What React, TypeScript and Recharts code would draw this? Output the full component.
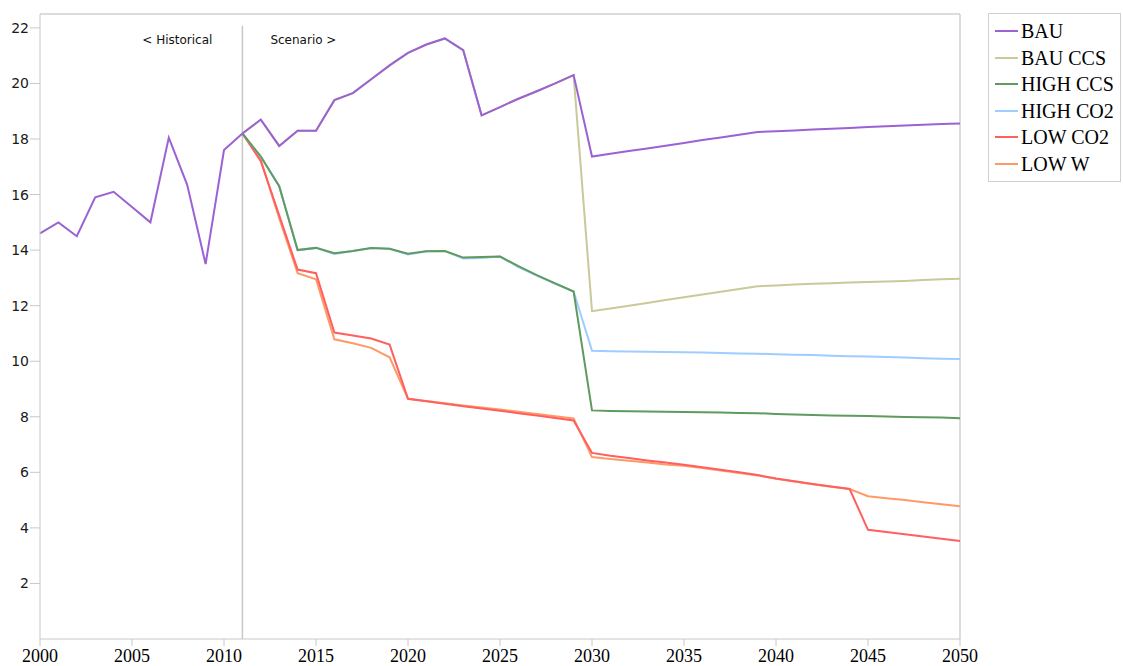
import React from 'react'
import { LineChart, Line, XAxis, YAxis, ReferenceLine, Legend } from 'recharts'

// years on the x axis
const YEARS = [
  2000, 2001, 2002, 2003, 2004, 2005, 2006, 2007, 2008, 2009,
  2010, 2011, 2012, 2013, 2014, 2015, 2016, 2017, 2018, 2019,
  2020, 2021, 2022, 2023, 2024, 2025, 2026, 2027, 2028, 2029,
  2030, 2031, 2032, 2033, 2034, 2035, 2036, 2037, 2038, 2039,
  2040, 2041, 2042, 2043, 2044, 2045, 2046, 2047, 2048, 2049, 2050
]

const X_TICKS = [2000, 2005, 2010, 2015, 2020, 2025, 2030, 2035, 2040, 2045, 2050]
const Y_TICKS = [2, 4, 6, 8, 10, 12, 14, 16, 18, 20, 22]

const N = null

const BAU = [
  14.6, 15.0, 14.5, 15.9, 16.1, 15.55, 15.0, 18.05, 16.35, 13.5,
  17.6, 18.2, 18.7, 17.75, 18.3, 18.3, 19.4, 19.65, 20.15, 20.65,
  21.1, 21.4, 21.62, 21.2, 18.85, 19.15, 19.45, 19.72, 20.0, 20.3,
  17.37, 17.47, 17.57, 17.66, 17.76, 17.86, 17.96, 18.05, 18.15, 18.25,
  18.28, 18.31, 18.34, 18.37, 18.4, 18.43, 18.46, 18.49, 18.51, 18.54, 18.56
]

const BAU_CCS = [
  N, N, N, N, N, N, N, N, N, N,
  N, 18.2, 18.7, 17.75, 18.3, 18.3, 19.4, 19.65, 20.15, 20.65,
  21.1, 21.4, 21.62, 21.2, 18.85, 19.15, 19.45, 19.72, 20.0, 20.3,
  11.8, 11.9, 12.0, 12.1, 12.2, 12.3, 12.4, 12.5, 12.6, 12.7,
  12.73, 12.76, 12.79, 12.81, 12.83, 12.85, 12.87, 12.89, 12.92, 12.95, 12.97
]

const HIGH_CCS = [
  N, N, N, N, N, N, N, N, N, N,
  N, 18.2, 17.37, 16.3, 14.0, 14.08, 13.89, 13.97, 14.08, 14.05,
  13.87, 13.96, 13.97, 13.73, 13.75, 13.77, 13.42, 13.1, 12.8, 12.51,
  8.23, 8.21, 8.2, 8.19, 8.18, 8.17, 8.16, 8.15, 8.14, 8.13,
  8.1, 8.08, 8.06, 8.05, 8.04, 8.03, 8.01, 7.99, 7.98, 7.97, 7.95
]

const HIGH_CO2 = [
  N, N, N, N, N, N, N, N, N, N,
  N, 18.2, 17.37, 16.3, 14.0, 14.08, 13.86, 13.97, 14.08, 14.05,
  13.84, 13.96, 13.97, 13.7, 13.72, 13.77, 13.39, 13.08, 12.79, 12.51,
  10.38, 10.36, 10.35, 10.34, 10.33, 10.32, 10.31, 10.3, 10.28, 10.27,
  10.25, 10.23, 10.22, 10.2, 10.18, 10.17, 10.15, 10.13, 10.11, 10.09, 10.08
]

const LOW_CO2 = [
  N, N, N, N, N, N, N, N, N, N,
  N, 18.2, 17.2, 15.25, 13.3, 13.17, 11.03, 10.93, 10.82, 10.6,
  8.65, 8.56, 8.47, 8.38, 8.3, 8.22, 8.13, 8.05, 7.96, 7.87,
  6.7, 6.6, 6.52, 6.43, 6.35, 6.27, 6.18, 6.09, 6.0, 5.9,
  5.78, 5.68, 5.58, 5.49, 5.4, 3.93, 3.85, 3.77, 3.69, 3.61, 3.53
]

const LOW_W = [
  N, N, N, N, N, N, N, N, N, N,
  N, 18.2, 17.25, 15.15, 13.17, 12.95, 10.79, 10.65, 10.48, 10.14,
  8.65, 8.57, 8.49, 8.41, 8.33, 8.26, 8.18, 8.1, 8.02, 7.94,
  6.55, 6.48, 6.42, 6.35, 6.28, 6.24, 6.16, 6.07, 5.98, 5.89,
  5.77, 5.67, 5.57, 5.48, 5.4, 5.14, 5.07, 5.0, 4.92, 4.85, 4.78
]

// legend order; drawn in reverse so BAU sits on top
const SERIES = [
  { name: 'BAU', values: BAU, color: '#9a62d2' },
  { name: 'BAU CCS', values: BAU_CCS, color: '#c9c99a' },
  { name: 'HIGH CCS', values: HIGH_CCS, color: '#5f9a5f' },
  { name: 'HIGH CO2', values: HIGH_CO2, color: '#9fcdff' },
  { name: 'LOW CO2', values: LOW_CO2, color: '#ff5f5f' },
  { name: 'LOW W', values: LOW_W, color: '#ff9a66' }
]

const SERIF = 'Liberation Serif, serif'
const SANS = 'DejaVu Sans, sans-serif'

const data = YEARS.map((year, i) => {
  const row: any = { year }
  SERIES.forEach(s => { row[s.name] = s.values[i] })
  return row
})

function LegendBox() {
  return (
    <div
      style={{
        border: '1px solid #d0d0d0',
        background: '#fff',
        padding: '4px 0 4px 6px',
        fontFamily: SERIF,
        fontSize: 20,
        color: '#000'
      }}
    >
      {SERIES.map(s => (
        <div key={s.name} style={{ display: 'flex', alignItems: 'center', height: 26.5 }}>
          <span style={{ display: 'inline-block', width: 23, height: 2, background: s.color, marginRight: 3 }} />
          <span style={{ whiteSpace: 'nowrap', lineHeight: '20px' }}>{s.name}</span>
        </div>
      ))}
    </div>
  )
}

const yearTick = (props: any) => {
  const { x, y, payload } = props
  return (
    <g transform={`translate(${x},${y})`}>
      <text x={0} y={14} textAnchor="middle" style={{ fontFamily: SERIF, fontSize: 18, fill: '#000' }}>
        {payload.value}
      </text>
    </g>
  )
}

const valueTick = (props: any) => {
  const { x, y, payload } = props
  return (
    <g transform={`translate(${x},${y})`}>
      <text x={0} y={5} textAnchor="end" style={{ fontFamily: SANS, fontSize: 14, fill: '#1a1a1a' }}>
        {payload.value}
      </text>
    </g>
  )
}

export default function App() {
  const annotation = ({ viewBox }: any) => {
    const x = viewBox.x
    const y = viewBox.y
    return (
      <g style={{ fontFamily: SANS, fontSize: 12, fill: '#111' }}>
        <text x={x - 30} y={y + 18} textAnchor="end">&lt; Historical</text>
        <text x={x + 28} y={y + 18} textAnchor="start">Scenario &gt;</text>
      </g>
    )
  }

  return (
    <div style={{ position: 'absolute', left: 0, top: 0, width: 1123, height: 666, background: '#fff' }}>
      <LineChart width={1123} height={666} data={data} margin={{ top: 14, right: 163, bottom: 0, left: 0 }}>
        <XAxis
          dataKey="year"
          type="number"
          domain={[2000, 2050]}
          ticks={X_TICKS}
          height={27}
          tickSize={7}
          tickMargin={2}
          stroke="#c8c8c8"
          tick={yearTick}
        />
        <YAxis
          type="number"
          domain={[0, 22.5]}
          ticks={Y_TICKS}
          width={40}
          tickSize={10}
          tickMargin={1}
          stroke="#c8c8c8"
          tick={valueTick}
        />
        <ReferenceLine y={22.5} stroke="#dcdcdc" strokeWidth={2} />
        <ReferenceLine x={2050} stroke="#d0d0d0" strokeWidth={1.5} />
        <ReferenceLine
          segment={[{ x: 2011, y: 0 }, { x: 2011, y: 22.08 }]}
          stroke="#c8c8c8"
          strokeWidth={1.5}
          label={annotation}
        />
        {[...SERIES].reverse().map(s => (
          <Line
            key={s.name}
            type="linear"
            dataKey={s.name}
            stroke={s.color}
            strokeWidth={2}
            dot={false}
            activeDot={false}
            isAnimationActive={false}
          />
        ))}
        <Legend
          layout="horizontal"
          align="center"
          verticalAlign="middle"
          content={() => <LegendBox />}
          wrapperStyle={{ left: 988, top: 13, width: 133, height: 'auto' }}
        />
      </LineChart>
    </div>
  )
}
